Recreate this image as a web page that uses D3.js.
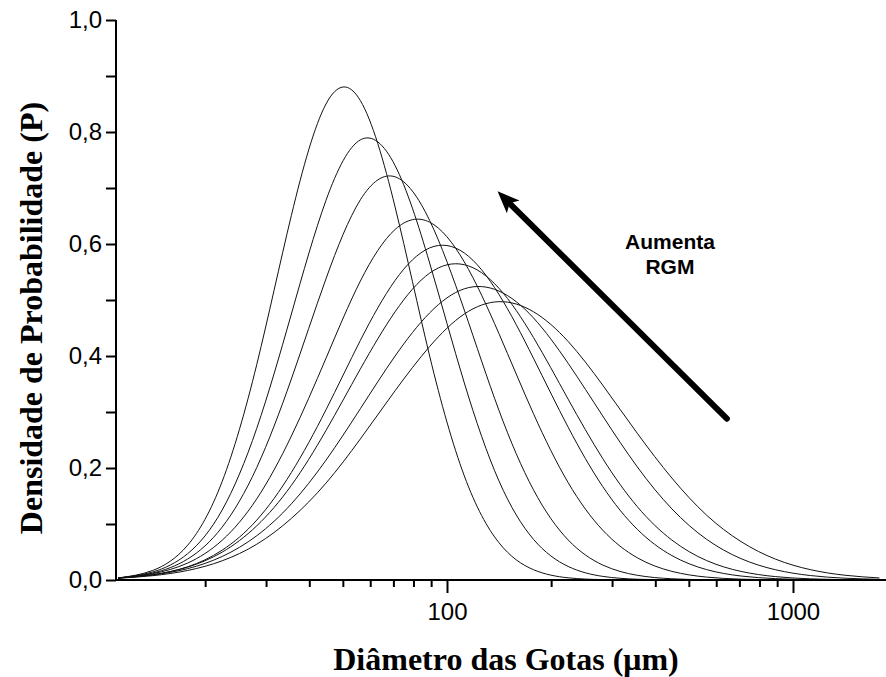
<!DOCTYPE html>
<html>
<head>
<meta charset="utf-8">
<script src="https://cdn.jsdelivr.net/npm/d3@7"></script>
<style>
  body { margin: 0; background: #fff; }
  svg { display: block; }
</style>
</head>
<body>
<div id="chart"></div>
<script>
// diametros (um) comuns a todas as curvas
var diametros = [11.2, 14.1, 17.8, 22.4, 28.2, 35.5, 44.7, 56.2, 70.8, 89.1, 112.2, 141.3,
                 177.8, 223.9, 281.8, 354.8, 446.7, 562.3, 707.9, 891.3, 1122, 1413, 1778];

// densidade de probabilidade lida em cada diametro, uma lista por curva
var curva1 = [0.0036, 0.0170, 0.0621, 0.176, 0.385, 0.651, 0.850, 0.856, 0.666, 0.400, 0.186, 0.0666,
              0.0184, 0.0039, 0.0007, 0.0001, 0, 0, 0, 0, 0, 0, 0];
var curva2 = [0.0036, 0.0143, 0.0470, 0.125, 0.271, 0.475, 0.678, 0.786, 0.740, 0.566, 0.352, 0.177,
              0.0727, 0.0242, 0.0065, 0.0014, 0.0003, 0, 0, 0, 0, 0, 0];
var curva3 = [0.0035, 0.0124, 0.0374, 0.0945, 0.201, 0.359, 0.538, 0.679, 0.720, 0.642, 0.482, 0.303,
              0.161, 0.0716, 0.0268, 0.0084, 0.0022, 0.0005, 0.0001, 0, 0, 0, 0];
var curva4 = [0.0037, 0.0113, 0.0303, 0.0710, 0.145, 0.257, 0.396, 0.534, 0.626, 0.639, 0.568, 0.440,
              0.297, 0.174, 0.0891, 0.0397, 0.0154, 0.0052, 0.0015, 0.0004, 0.0001, 0, 0];
var curva5 = [0.0032, 0.0092, 0.0235, 0.0533, 0.107, 0.192, 0.304, 0.428, 0.535, 0.593, 0.584, 0.510,
              0.396, 0.273, 0.167, 0.0905, 0.0436, 0.0186, 0.0071, 0.0024, 0.0007, 0.0002, 0];
var curva6 = [0.0036, 0.0096, 0.0230, 0.0498, 0.0968, 0.169, 0.267, 0.377, 0.479, 0.548, 0.563, 0.521,
              0.433, 0.323, 0.217, 0.131, 0.0713, 0.0348, 0.0153, 0.0060, 0.0021, 0.0007, 0.0002];
var curva7 = [0.0036, 0.0090, 0.0203, 0.0420, 0.0791, 0.136, 0.214, 0.306, 0.400, 0.477, 0.520, 0.516,
              0.468, 0.387, 0.293, 0.202, 0.127, 0.0728, 0.0381, 0.0182, 0.0080, 0.0032, 0.0012];
var curva8 = [0.0032, 0.0077, 0.0170, 0.0343, 0.0639, 0.110, 0.173, 0.252, 0.338, 0.417, 0.475, 0.497,
              0.479, 0.426, 0.348, 0.262, 0.182, 0.116, 0.0685, 0.0371, 0.0185, 0.0085, 0.0036];

var curvas = [curva1, curva2, curva3, curva4, curva5, curva6, curva7, curva8];

// marcas dos eixos
var xMaiores = [100, 1000];
var xMenores = [20, 30, 40, 50, 60, 70, 80, 90, 200, 300, 400, 500, 600, 700, 800, 900];
var yMarcas = [0, 0.1, 0.2, 0.3, 0.4, 0.5, 0.6, 0.7, 0.8, 0.9, 1.0];

// anotacao (seta e texto) em coordenadas dos dados
var setaInicio = [644, 0.288];
var setaFim = [140, 0.694];
var anotacao = ["Aumenta", "RGM"];
var anotacaoPos = [[441, 0.5916], [441, 0.5469]];

var largura = 886, altura = 677;

var svg = d3.select("#chart")
            .append("svg")
            .attr("width", largura)
            .attr("height", altura);

var x = d3.scaleLog().domain([11.05, 1857]).range([116, 886]);
var y = d3.scaleLinear().domain([0, 1]).range([580, 20]);

// recorte da area do grafico
svg.append("clipPath")
    .attr("id", "area")
    .append("rect")
    .attr("x", 116)
    .attr("y", 0)
    .attr("width", 770)
    .attr("height", y(0));

var linha = d3.line()
              .x(function(d, i){ return x(diametros[i]); })
              .y(function(d){ return y(d); })
              .curve(d3.curveNatural);

svg.append("g")
    .attr("clip-path", "url(#area)")
    .selectAll("path")
    .data(curvas)
    .join("path")
    .attr("d", linha)
    .attr("fill", "none")
    .attr("stroke", "#111")
    .attr("stroke-width", 1);

// eixo x: marcas menores e maiores
var eixoXMenor = svg.append("g")
    .attr("transform", "translate(0," + y(0) + ")")
    .call(d3.axisBottom(x).tickValues(xMenores).tickSize(7).tickFormat(""));

var eixoXMaior = svg.append("g")
    .attr("transform", "translate(0," + y(0) + ")")
    .call(d3.axisBottom(x).tickValues(xMaiores).tickSize(13).tickPadding(10)
            .tickFormat(d3.format("d")));

// eixo y
var eixoY = svg.append("g")
    .attr("transform", "translate(116,0)")
    .call(d3.axisLeft(y).tickValues(yMarcas).tickSize(10).tickPadding(4)
            .tickFormat(function(d){
                var k = Math.round(d * 10);
                return k % 2 == 0 ? d3.format(".1f")(d).replace(".", ",") : "";
            }));

svg.selectAll(".domain")
    .attr("stroke", "#000")
    .attr("stroke-width", 2);
eixoXMenor.select(".domain").attr("d", "M116,0H886");
eixoXMaior.select(".domain").attr("d", "M116,0H886");
eixoY.select(".domain").attr("d", "M0," + y(1) + "V" + y(0));

svg.selectAll(".tick line")
    .attr("stroke", "#000")
    .attr("stroke-width", 2);

svg.selectAll(".tick text")
    .attr("fill", "#000")
    .style("font-family", "'Liberation Sans', Arial, sans-serif")
    .style("font-size", "24px");

// titulos dos eixos
svg.append("text")
    .attr("x", 506)
    .attr("y", 670)
    .attr("text-anchor", "middle")
    .style("font-family", "'Liberation Serif', 'Times New Roman', serif")
    .style("font-weight", "bold")
    .style("font-size", "32px")
    .text("Diâmetro das Gotas (μm)");

svg.append("text")
    .attr("transform", "translate(42,318) rotate(-90)")
    .attr("text-anchor", "middle")
    .style("font-family", "'Liberation Serif', 'Times New Roman', serif")
    .style("font-weight", "bold")
    .style("font-size", "32px")
    .text("Densidade de Probabilidade (P)");

// seta
var x0 = x(setaInicio[0]), y0 = y(setaInicio[1]);
var x1 = x(setaFim[0]), y1 = y(setaFim[1]);
var ang = Math.atan2(y1 - y0, x1 - x0);
var cabeca = 22, meia = 9;
var bx = x1 - cabeca * Math.cos(ang), by = y1 - cabeca * Math.sin(ang);

svg.append("line")
    .attr("x1", x0)
    .attr("y1", y0)
    .attr("x2", bx + 4 * Math.cos(ang))
    .attr("y2", by + 4 * Math.sin(ang))
    .attr("stroke", "#000")
    .attr("stroke-width", 6)
    .attr("stroke-linecap", "round");

svg.append("path")
    .attr("d", "M" + x1 + "," + y1 +
               "L" + (bx + meia * Math.sin(ang)) + "," + (by - meia * Math.cos(ang)) +
               "L" + (bx + 5 * Math.cos(ang)) + "," + (by + 5 * Math.sin(ang)) +
               "L" + (bx - meia * Math.sin(ang)) + "," + (by + meia * Math.cos(ang)) + "Z")
    .attr("fill", "#000");

svg.selectAll(".anotacao")
    .data(anotacao)
    .join("text")
    .attr("class", "anotacao")
    .attr("x", function(d, i){ return x(anotacaoPos[i][0]); })
    .attr("y", function(d, i){ return y(anotacaoPos[i][1]); })
    .attr("text-anchor", "middle")
    .style("font-family", "'Liberation Sans', Arial, sans-serif")
    .style("font-weight", "bold")
    .style("font-size", "21px")
    .text(function(d){ return d; });
</script>
</body>
</html>
